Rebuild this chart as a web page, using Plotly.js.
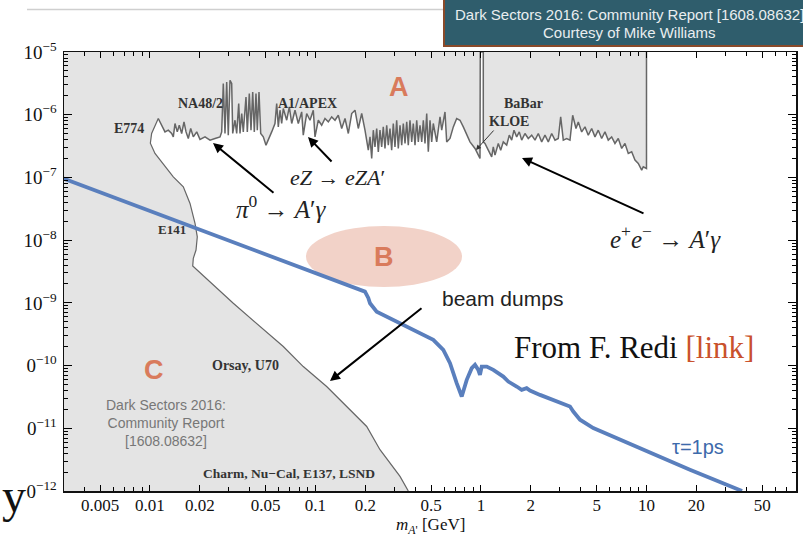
<!DOCTYPE html>
<html><head><meta charset="utf-8">
<script src="https://cdn.plot.ly/plotly-3.0.1.min.js"></script>
<style>html,body{margin:0;padding:0;background:#fff;}#plot{width:803px;height:541px;}</style>
</head><body><div id="plot"></div>
<script>
// ---- Data (mass in GeV, epsilon^2) ----
const promptMass = [
0.01122,0.01232,0.0129,0.01352,0.01383,0.01416,0.01462,0.01503,0.01554,0.01605,
0.01651,0.01704,0.01762,0.01827,0.01916,0.02006,0.0215,0.02305,0.02471,0.02649,
0.02712,0.02773,0.02839,0.02907,0.02972,0.03044,0.03116,0.03161,0.03263,0.03341,
0.03436,0.03499,0.03583,0.03663,0.03803,0.03873,0.03982,0.04077,0.04175,0.04269,
0.0437,0.0445,0.04557,0.04666,0.04838,0.05023,0.05436,0.05691,0.05828,0.0596,
0.06103,0.06248,0.06389,0.06699,0.06947,0.07183,0.0752,0.07873,0.08252,0.08436,
0.08848,0.09265,0.097,0.09931,0.104,0.109,0.1141,0.1195,0.1253,0.1312,
0.1373,0.144,0.1508,0.1579,0.1655,0.1733,0.1814,0.1902,0.1991,0.2085,
0.2135,0.2186,0.2235,0.2288,0.2343,0.2396,0.2453,0.2512,0.2568,0.263,
0.2693,0.2754,0.2819,0.2886,0.2952,0.3022,0.3094,0.3165,0.3241,0.3319,
0.3393,0.3475,0.3558,0.3637,0.3724,0.3814,0.3899,0.3993,0.4089,0.4181,
0.4281,0.4384,0.4483,0.4589,0.4699,0.4805,0.492,0.5037,0.515,0.54,
0.5655,0.579,0.6061,0.6206,0.6497,0.6804,0.713,0.7467,0.7819,0.8581,
0.9199,0.9862,0.99,1.0325,1.0325,1.0572,1.1068,1.1604,1.1865,1.215,
1.2721,1.3152,1.3637,1.4298,1.4825,1.5328,1.5826,1.643,1.7035,1.7614,
1.844,1.9309,2.0245,2.12,2.2195,2.3265,2.436,2.5505,2.6744,2.8,
2.9311,3.0307,3.1427,3.2945,3.449,3.581,3.7497,3.8717,4.059,4.25,
4.4494,4.6646,4.8842,5.1133,5.3604,5.6118,5.8749,6.16,6.4489,6.7527,
7.0842,7.4131,7.7625,8.1372,8.5212,8.9206,9.354,9.563,10,10];
const promptEps2 = [
8.7e-7,5.32e-7,5.67e-7,5.02e-7,4.43e-7,7.24e-7,5.32e-7,6.8e-7,5.02e-7,7.68e-7,
5.32e-7,4.18e-7,6.03e-7,4.43e-7,5.32e-7,4.03e-7,4.43e-7,3.93e-7,4.18e-7,4.43e-7,
5.32e-7,3.14e-6,5.02e-7,3.33e-6,4.72e-7,3.54e-6,3.14e-6,5.02e-7,8.17e-7,5.02e-7,
1.51e-6,5.02e-7,1.045e-6,5.32e-7,1.92e-6,5.32e-7,2.18e-6,5.67e-7,2.31e-6,5.32e-7,
2.18e-6,5.67e-7,2.31e-6,5.02e-7,4.43e-7,3.27e-7,5.32e-7,7.24e-7,1.51e-6,6.4e-7,
1.18e-6,7.24e-7,1.255e-6,8.17e-7,1.33e-6,7.24e-7,1.18e-6,7.24e-7,1.108e-6,4.72e-7,
1.045e-6,8.17e-7,1.18e-6,4.43e-7,8.17e-7,6.8e-7,8.7e-7,7.68e-7,9.22e-7,8.17e-7,
9.8e-7,6.03e-7,8.7e-7,5.02e-7,1.045e-6,1.18e-6,6.03e-7,1.045e-6,5.67e-7,2.72e-7,
4.43e-7,2.01e-7,5.67e-7,3.07e-7,6.03e-7,2.56e-7,5.67e-7,3.07e-7,6.4e-7,2.9e-7,
6.8e-7,3.27e-7,6.03e-7,2.72e-7,7.24e-7,3.07e-7,8.17e-7,2.9e-7,6.8e-7,3.27e-7,
7.24e-7,3.48e-7,7.68e-7,3.27e-7,8.17e-7,3.69e-7,7.24e-7,3.27e-7,8.17e-7,3.69e-7,
6.8e-7,3.69e-7,8.17e-7,3.48e-7,1.045e-6,2.56e-7,8.17e-7,3.69e-7,7.24e-7,3.69e-7,
9.22e-7,5.67e-7,1.108e-6,3.69e-7,4.18e-7,6.4e-7,8.7e-7,8.17e-7,6.4e-7,3.69e-7,
2.9e-7,2.01e-7,1e-5,1e-5,3.69e-7,3.48e-7,2.72e-7,2.13e-7,3.07e-7,2.27e-7,
3.48e-7,2.72e-7,3.69e-7,3.27e-7,4.72e-7,3.93e-7,5.67e-7,4.43e-7,5.32e-7,3.93e-7,
5.02e-7,4.18e-7,4.72e-7,3.93e-7,5.02e-7,3.69e-7,4.72e-7,3.69e-7,5.02e-7,3.93e-7,
4.18e-7,9.22e-7,3.93e-7,4.18e-7,3.93e-7,9.8e-7,6.03e-7,7.68e-7,5.32e-7,6.4e-7,
4.72e-7,6.03e-7,4.43e-7,5.67e-7,4.18e-7,5.32e-7,3.93e-7,4.43e-7,3.48e-7,4.18e-7,
2.9e-7,3.48e-7,2.41e-7,2.56e-7,1.89e-7,1.67e-7,1.31e-7,1.48e-7,1.39e-7,1e-5];

const dumpMass = [0.01122,0.01023,0.01005,0.01072,0.01383,0.0159,0.01745,0.01871,0.01931,0.01897,
  0.01827,0.01812,0.03186,0.06389,0.08436,0.1168,0.2039,0.2453,0.3241,0.3637];
const dumpEps2 = [8.7e-7,5.02e-7,3.52e-7,2.41e-7,1.022e-7,7.09e-8,3.85e-8,1.85e-8,1.13e-8,6.96e-9,
  5.13e-9,3.87e-9,9.85e-10,2.01e-10,9.64e-11,4.63e-11,1.068e-11,4.55e-12,1.71e-12,1e-12];

const tauMass = [0.003,0.199,0.2085,0.2135,0.2343,0.282,0.339,0.409,0.515,0.592,
  0.65,0.713,0.765,0.82,0.879,0.92,0.963,0.986,1.01,1.083,
  1.187,1.364,1.462,1.643,1.761,1.888,1.977,2.273,3.449,3.612,
  3.965,4.77,9.13,18.3,37.8];
const tauEps2 = [9.6e-8,1.51e-9,1.2e-9,9.85e-10,7.24e-10,5.69e-10,4.45e-10,3.48e-10,2.57e-10,1.78e-10,
  1.09e-10,5.24e-11,3.21e-11,5.92e-11,9.09e-11,1.03e-10,8.54e-11,7.11e-11,9.64e-11,9.64e-11,
  8.54e-11,6.68e-11,5.56e-11,4.63e-11,4.1e-11,4.37e-11,4.0e-11,3.41e-11,2.22e-11,1.85e-11,
  1.37e-11,1.01e-11,4.84e-12,2.18e-12,1.0e-12];

const xTickVals = [0.005,0.01,0.02,0.05,0.1,0.2,0.5,1,2,5,10,20,50];
const xTickText = ['0.005','0.01','0.02','0.05','0.1','0.2','0.5','1','2','5','10','20','50'];
const yTickVals = [1e-12,1e-11,1e-10,1e-9,1e-8,1e-7,1e-6,1e-5];
// labels as they appear in the (left-cropped) picture
const yTickText = ['0<sup>−12</sup>','0<sup>−11</sup>','0<sup>−10</sup>','10<sup>−9</sup>','10<sup>−8</sup>','10<sup>−7</sup>','10<sup>−6</sup>','10<sup>−5</sup>'];

// ---- Axis ranges ----
const XR = [-2.5196, 1.9034];
const YR = [-12, -5];
const X0 = Math.pow(10, XR[0]);
const YBOT = Math.pow(10, YR[0]), YTOP = Math.pow(10, YR[1]);

// minor ticks
const xMinor = [], yMinor = [];
for (let k = -3; k <= 1; k++) for (let n = 1; n <= 9; n++) {
  const v = n * Math.pow(10, k);
  if (v < X0 || v > Math.pow(10, XR[1])) continue;
  if (xTickVals.some(t => Math.abs(t - v) / v < 1e-6)) continue;
  xMinor.push(v);
}
for (let k = -12; k <= -6; k++) for (let n = 2; n <= 9; n++) yMinor.push(n * Math.pow(10, k));

// excluded region polygon
const polyX = [X0, X0].concat(promptMass.slice().reverse(), dumpMass.slice(1));
const polyY = [YBOT, YTOP].concat(promptEps2.slice().reverse(), dumpEps2.slice(1));

const traces = [
  {x: polyX, y: polyY, type: 'scatter', mode: 'lines', fill: 'toself', fillcolor: '#e4e4e4',
   line: {width: 0, color: 'rgba(0,0,0,0)'}, hoverinfo: 'skip', showlegend: false},
  {x: dumpMass, y: dumpEps2, type: 'scatter', mode: 'lines', line: {color: '#666', width: 1.2},
   hoverinfo: 'skip', showlegend: false},
  {x: promptMass, y: promptEps2, type: 'scatter', mode: 'lines', line: {color: '#666', width: 1.5},
   hoverinfo: 'skip', showlegend: false},
  {x: tauMass, y: tauEps2, type: 'scatter', mode: 'lines', line: {color: '#5a7fbd', width: 3.8},
   hoverinfo: 'skip', showlegend: false}
];

// pixel -> paper helper for labels
const L = 64, T = 52, W = 732, H = 439;
function PX(px) { return (px - L) / W; }
function PY(py) { return (T + H - py) / H; }

const serif = 'Liberation Serif, Times New Roman, serif';
const sans = 'Liberation Sans, Arial, sans-serif';
const labC = '#333';
function txt(t, px, py, size, color, family, extra) {
  return Object.assign({text: t, x: PX(px), y: PY(py), xref: 'paper', yref: 'paper', showarrow: false,
    font: {size: size, color: color, family: family}, xanchor: 'center', yanchor: 'middle'}, extra || {});
}
function arrow(hx, hy, tx, ty, w, c, head) {
  return {text: '', x: PX(hx), y: PY(hy), xref: 'paper', yref: 'paper', showarrow: true,
    ax: tx - hx, ay: ty - hy, arrowhead: head || 2, arrowsize: 1, arrowwidth: w, arrowcolor: c, standoff: 0};
}

const annotations = [
  txt('<b>A</b>', 399, 87, 27, '#d97b5c', sans),
  txt('<b>B</b>', 384, 257, 27, '#d97b5c', sans),
  txt('<b>C</b>', 154, 370, 27, '#d97b5c', sans),
  txt('<b>E774</b>', 129, 128, 14, labC, serif),
  txt('<b>NA48/2</b>', 200, 103, 14, labC, serif),
  txt('<b>A1/APEX</b>', 307, 103, 14, labC, serif),
  txt('<b>BaBar</b>', 523, 103, 14, labC, serif),
  txt('<b>KLOE</b>', 509, 122, 14, labC, serif),
  txt('<b>E141</b>', 172, 229, 13, labC, serif),
  txt('<b>Orsay, U70</b>', 245, 365, 14, labC, serif),
  txt('<b>Charm, Nu−Cal, E137, LSND</b>', 289, 473, 13.5, labC, serif),
  txt('Dark Sectors 2016:<br>Community Report<br>[1608.08632]', 166, 423, 14, '#777', sans),
  txt('<i>π</i><sup>0</sup> → <i>A</i>′<i>γ</i>', 281, 207, 25, '#222', serif),
  txt('<i>eZ</i> → <i>eZA</i>′', 337, 177, 22, '#222', serif),
  txt('<i>e</i><sup>+</sup><i>e</i><sup>−</sup> → <i>A</i>′<i>γ</i>', 665, 237, 25, '#222', serif),
  txt('beam dumps', 502, 298, 21, '#222', sans),
  txt('From F. Redi <span style="color:#c9512c">[link]</span>', 634, 347, 31, '#111', serif),
  txt('τ=1ps', 698, 447, 20, '#3d6aab', sans),
  txt('<i>m</i><sub><i>A</i>\'</sub> [GeV]', 430, 526, 17, '#111', serif),
  txt('y', 0, 495, 48, '#111', serif, {xanchor: 'left'}),
  txt('Dark Sectors 2016: Community Report [1608.08632]', 453, 15, 15, '#e9eef0', sans, {xanchor: 'left'}),
  txt('Courtesy of Mike Williams', 629, 33, 15, '#e9eef0', sans),
  arrow(213, 143, 275, 194, 2, '#000'),
  arrow(308, 137, 333, 163, 2, '#000'),
  arrow(522, 158, 645, 214, 2, '#000'),
  arrow(330, 381, 423, 307, 2, '#000'),
  arrow(476, 150, 495, 129, 1, '#333', 2)
];

const shapes = [
  {type: 'circle', xref: 'paper', yref: 'paper', x0: PX(306), x1: PX(462), y0: PY(287), y1: PY(226),
   fillcolor: '#f2d2c8', line: {width: 0}, layer: 'below'},
  {type: 'line', xref: 'paper', yref: 'paper', x0: PX(27), x1: PX(444), y0: PY(9.5), y1: PY(9.5),
   line: {color: '#cfcfcf', width: 1.5}},
  {type: 'rect', xref: 'paper', yref: 'paper', x0: PX(444), x1: PX(806), y0: PY(46), y1: PY(-3),
   fillcolor: '#2f5d6c', line: {color: '#8a4a2a', width: 2}}
];

const layout = {
  width: 803, height: 541,
  margin: {l: L, r: 803 - L - W, t: T, b: 541 - T - H},
  paper_bgcolor: '#fff', plot_bgcolor: '#fff',
  showlegend: false, hovermode: false,
  xaxis: {type: 'log', range: XR, tickmode: 'array', tickvals: xTickVals, ticktext: xTickText,
    ticks: 'inside', ticklen: 6, tickwidth: 1, tickcolor: '#000', showgrid: false, zeroline: false,
    showline: true, linecolor: '#111', linewidth: 1.5, mirror: 'allticks', ticklabelstandoff: -2,
    tickfont: {family: serif, size: 17, color: '#111'},
    minor: {tickmode: 'array', tickvals: xMinor, ticks: 'inside', ticklen: 4, tickcolor: '#000', showgrid: false}},
  yaxis: {type: 'log', range: YR, tickmode: 'array', tickvals: yTickVals, ticktext: yTickText,
    ticks: 'inside', ticklen: 8, tickwidth: 1, tickcolor: '#000', showgrid: false, zeroline: false,
    showline: true, linecolor: '#111', linewidth: 1.5, mirror: 'allticks', ticklabelstandoff: 2,
    tickfont: {family: serif, size: 19, color: '#111'},
    minor: {tickmode: 'array', tickvals: yMinor, ticks: 'inside', ticklen: 4, tickcolor: '#000', showgrid: false}},
  annotations: annotations,
  shapes: shapes
};

Plotly.newPlot('plot', traces, layout, {displayModeBar: false, staticPlot: true});
</script>
</body></html>
